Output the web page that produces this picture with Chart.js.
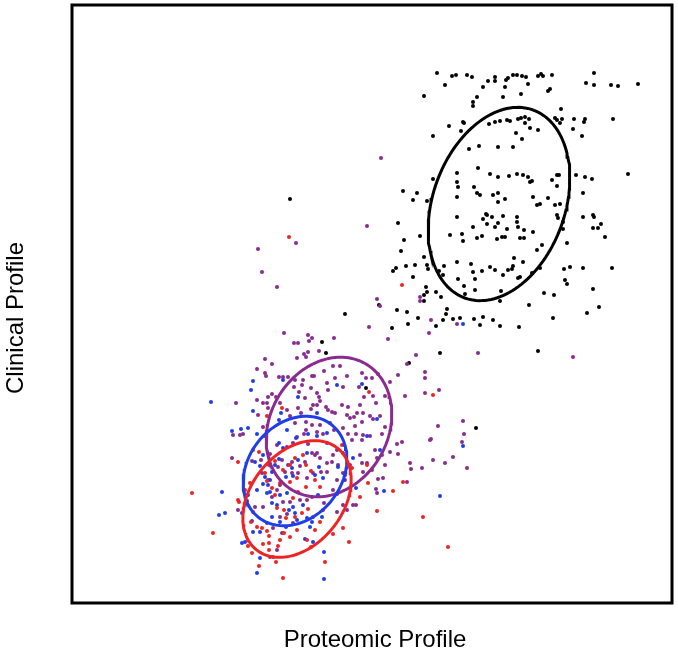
<!DOCTYPE html>
<html>
<head>
<meta charset="utf-8">
<script src="https://cdn.jsdelivr.net/npm/chart.js@4.4.1/dist/chart.umd.min.js"></script>
<style>
  html, body { margin: 0; padding: 0; background: #fff; }
  #wrap { width: 678px; height: 661px; }
</style>
</head>
<body>
<div id="wrap"><canvas id="myChart" width="678" height="661"></canvas></div>
<script>
// profile scores, [proteomic, clinical]
const blackPts = [
  [365,530],[380,527],[384,528],[395,528],[400,526],[416,522],[423,526],[423,522],[434,523],[436,525],[441,528],[373,518],[433,516],[411,516],[405,506],[401,501],[401,497],[431,506],[352,507],[423,481],[428,482],[417,479],[435,483],[438,482],[391,481],[392,480],[377,477],[389,472],[361,467],[397,454],[407,457],[426,456],[441,456],[406,435],[385,430],[418,429],[426,426],[437,427],[361,424],[385,421],[386,416],[402,416],[405,410],[408,408],[421,408],[426,410],[433,404],[426,401],[331,412],[345,410],[341,403],[355,402],[385,406],
  [445,528],[450,527],[454,526],[466,527],[469,529],[471,527],[480,528],[456,519],[478,514],[476,512],[449,509],[522,530],[514,520],[522,518],[539,518],[546,517],[566,519],[489,494],[446,484],[449,485],[453,486],[457,484],[453,480],[458,475],[466,473],[444,470],[450,464],[483,485],[485,483],[490,484],[488,480],[502,484],[513,484],[512,481],[501,474],[510,467],[541,484],[445,429],[451,428],[456,426],[458,421],[460,422],[485,428],[487,428],[480,423],[485,417],[504,428],[513,426],[520,424],[556,429],[511,410],[461,406],[476,405],[465,398],[468,399],[483,398],[488,399],
  [385,386],[414,389],[415,388],[420,386],[431,387],[411,384],[415,379],[401,376],[423,376],[426,380],[435,374],[326,380],[348,367],[378,368],[390,369],[391,362],[405,365],[410,367],[425,364],[430,366],[433,366],[332,363],[329,352],[352,346],[355,338],[356,334],[385,341],[399,339],[401,331],[410,332],[418,336],[423,333],[436,333],[440,334],[441,337],[431,328],[442,345],[372,337],[367,332],[371,328],[343,338],[334,337],[324,335],[321,332],[341,326],[386,324],[403,324],[392,317],[403,313],[393,309],[429,312],[428,302],[354,316],[355,311],[352,308],[364,311],[369,306],[352,302],[325,293],[335,291],[346,285],[375,294],[374,289],[371,283],[381,284],[388,285],[402,284],[411,286],[421,283],[408,278],[428,277],[364,277],[336,279],[320,275],[368,250],
  [445,386],[445,381],[446,376],[452,373],[461,371],[448,365],[452,365],[485,388],[486,385],[491,381],[491,374],[495,360],[470,358],[465,353],[451,341],[468,335],[460,330],[448,326],[446,325],[492,334],[498,336],[493,323],[495,319],[511,386],[521,388],[522,386],[529,379],[521,375],[526,375],[533,366],[511,335],[540,335],[521,314],[472,310],[482,308],[457,298],[527,296],[515,290],[481,285],[447,276],[466,252],
  [218,404],[307,298],[273,289],[337,240],[294,215],[404,175],[250,261],[254,250]
];

const purplePts = [
  [309,445],[295,377],[224,360],[186,354],[190,331],[205,316],[348,306],[348,302],[308,297],[359,283],[357,270],[385,279],[316,264],[344,248],[406,250],[501,246],
  [212,270],[222,260],[226,260],[236,268],[240,265],[237,262],[247,252],[236,251],[232,249],[234,246],[225,245],[193,244],[200,239],[185,234],[193,230],[194,227],[207,226],[211,226],[216,226],[223,223],[231,223],[240,227],[242,227],[252,232],[230,218],[239,215],[227,211],[222,216],[255,220],[256,213],[233,205],[245,210],[247,206],[248,202],[241,198],[239,194],[245,198],[254,196],[256,193],[200,209],[196,206],[195,200],[191,200],[196,195],[185,203],[164,200],[204,206],[208,200],[215,193],[226,195],[229,190],[218,187],[223,180],[234,181],[240,178],[248,178],[234,173],[232,169],[245,171],[251,169],[225,166],[186,188],[191,176],[171,169],[161,168],[168,168],
  [305,304],[297,276],[262,265],[335,239],[353,231],[353,225],[326,228],[318,221],[367,213],[353,210],[333,207],[261,237],[268,237],[275,227],[290,230],[294,225],[300,225],[306,229],[263,225],[271,216],[287,216],[288,198],[292,206],[301,207],[304,200],[313,207],[260,191],[263,190],[270,198],[276,196],[275,188],[278,185],[282,186],[285,190],[291,190],[290,181],[298,187],[301,184],[308,187],[313,176],[271,175],[283,177],[276,169],[284,169],[291,168],[298,167],[310,169],[258,180],[262,173],[359,164],[366,177],[391,182],[392,169],
  [160,145],[180,142],[189,143],[198,149],[205,158],[215,156],[221,160],[236,159],[243,148],[240,150],[245,150],[248,145],[233,141],[228,137],[220,141],[216,138],[210,143],[206,136],[213,131],[220,130],[226,130],[235,125],[241,130],[249,131],[255,140],[255,131],[196,123],[190,130],[200,106],[208,118],[205,113],[211,101],[218,101],[228,103],[240,106],[252,100],[208,86],[215,89],[221,80],[235,103],[195,80],[201,75],[210,70],[205,53],[198,46],[166,93],[183,96],[191,96],
  [280,163],[290,163],[265,153],[261,148],[271,150],[260,141],[266,138],[278,138],[288,148],[290,140],[271,130],[273,123],[265,123],[261,113],[271,98],[281,98],[275,93],[265,91],[291,131],[295,140],[303,153],[305,145],[310,148],[318,151],[325,159],[330,161],[326,149],[313,138],[300,133],[306,124],[311,125],[304,114],[305,110],[335,121],[338,140],[339,134],[350,135],[361,143],[373,140],[381,146],[395,135],[390,161],[358,163],[284,98]
];

const bluePts = [
  [391,279],
  [181,222],[179,213],[139,201],[211,223],[226,206],[181,192],[209,190],[245,190],[207,183],[160,172],[169,174],[176,175],[185,169],[193,167],[215,173],[224,165],[236,169],[245,167],[255,170],
  [265,218],[290,219],[305,184],[295,167],
  [150,111],[153,90],[147,88],[170,90],[180,82],[175,102],[176,108],[185,113],[191,119],[196,118],[198,123],[200,131],[203,138],[207,144],[207,160],[211,155],[191,148],[188,137],[195,110],[200,100],[205,98],[200,86],[208,81],[214,76],[221,96],[223,90],[231,98],[235,85],[238,76],[240,81],[243,128],[247,136],[251,125],[255,160],[181,71],[188,71],[173,61],[170,60],[188,45],[185,30],[252,24],[252,51],[241,61],[233,64],[215,110],[214,126],[221,127],[220,135],[226,143],[235,150],[183,141],[193,126],[198,111],[208,108],[217,93],[225,83],[246,108],[250,86],
  [308,153],[281,145],[266,136],[273,128],[265,109],[284,115],[312,112],[368,107],[391,157]
];

const redPts = [
  [330,318],[217,366],[210,195],[195,187],[297,211],[361,208],
  [120,110],[141,70],[167,101],[173,113],[178,120],[181,91],[185,76],[190,75],[195,72],[191,59],[197,67],[197,60],[197,53],[206,57],[208,63],[204,41],[187,37],[211,25],[201,46],[176,57],[180,50],[212,70],[218,66],[225,73],[223,86],[214,85],[212,93],[205,95],[203,108],[200,115],[195,122],[193,130],[197,138],[203,142],[211,133],[218,138],[223,145],[231,148],[234,138],[239,132],[243,123],[248,116],[234,116],[226,111],[221,105],[230,90],[236,94],[241,86],[243,73],[248,81],[251,93],[239,56],[235,63],[253,41],[166,141],[181,153],[187,151],[218,121],[225,125],[208,120],[166,103],[179,81],
  [270,158],[280,135],[295,138],[288,106],[296,120],[305,92],[321,112],[331,121],[351,86],[376,56],[277,61],[271,75],[261,69]
];

// group ellipses: centre, semi axes, tilt (degrees from the x axis)
const ellipseCx = [427, 257, 223, 225];
const ellipseCy = [399, 176, 132, 104];
const ellipseMajor = [100, 73, 59, 65];
const ellipseMinor = [66, 59, 47, 46];
const ellipseAngle = [70, 60, 52, 51.5];
const groupColors = ['#000000', '#8a2c8f', '#1f3ee8', '#ee2323'];

function toXY(list) {
  return list.map(p => ({x: p[0], y: p[1]}));
}

function ellipsePoints(i) {
  let pts = [];
  let rad = ellipseAngle[i] * Math.PI / 180;
  for (let k = 0; k <= 144; k++) {
    let t = k / 144 * 2 * Math.PI;
    let u = ellipseMajor[i] * Math.cos(t);
    let v = ellipseMinor[i] * Math.sin(t);
    pts.push({
      x: ellipseCx[i] + u * Math.cos(rad) - v * Math.sin(rad),
      y: ellipseCy[i] + u * Math.sin(rad) + v * Math.cos(rad)
    });
  }
  return pts;
}

const boxAndTitles = {
  id: 'boxAndTitles',
  afterDraw(chart) {
    const ctx = chart.ctx;
    const a = chart.chartArea;
    ctx.save();
    ctx.strokeStyle = '#000';
    ctx.lineWidth = 3;
    ctx.strokeRect(a.left, a.top, a.right - a.left, a.bottom - a.top);
    ctx.fillStyle = '#000';
    ctx.font = '24px "Liberation Sans", Arial, sans-serif';
    ctx.textAlign = 'center';
    ctx.textBaseline = 'middle';
    ctx.fillText('Proteomic Profile', (a.left + a.right) / 2 + 3, a.bottom + 37);
    ctx.translate(a.left - 56, (a.top + a.bottom) / 2 + 14);
    ctx.rotate(-Math.PI / 2);
    ctx.fillText('Clinical Profile', 0, 0);
    ctx.restore();
  }
};

const pointSets = [blackPts, purplePts, bluePts, redPts];
let datasets = [];
for (let i = 0; i < 4; i++) {
  datasets.push({
    data: ellipsePoints(i),
    showLine: true,
    borderColor: groupColors[i],
    borderWidth: 3,
    pointRadius: 0,
    fill: false,
    order: 4 - i
  });
}
for (let i = 0; i < 4; i++) {
  datasets.push({
    data: toXY(pointSets[i]),
    backgroundColor: groupColors[i],
    borderWidth: 0,
    pointRadius: 2,
    order: 20 - i
  });
}

const ctx = document.getElementById('myChart').getContext('2d');
const myChart = new Chart(ctx, {
  type: 'scatter',
  data: { datasets: datasets },
  options: {
    responsive: false,
    devicePixelRatio: 1,
    animation: false,
    layout: { padding: { left: 72, top: 5, right: 6, bottom: 58 } },
    plugins: { legend: { display: false }, tooltip: { enabled: false } },
    scales: {
      x: { min: 0, max: 600, display: false },
      y: { min: 0, max: 598, display: false }
    }
  },
  plugins: [boxAndTitles]
});
</script>
</body>
</html>
